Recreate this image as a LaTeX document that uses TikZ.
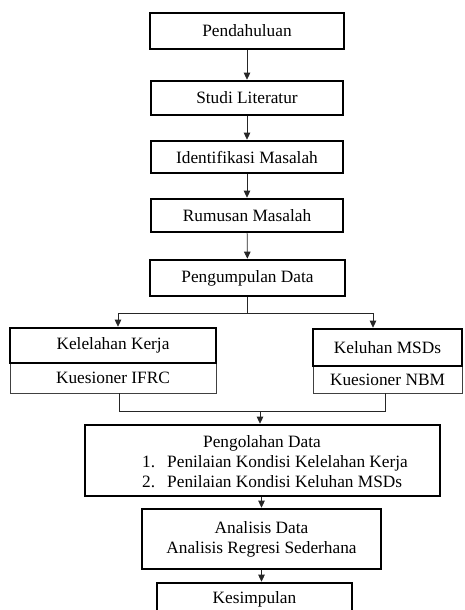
\documentclass[tikz,border=0pt]{standalone}
\usepackage{fontspec}
\setmainfont{Liberation Serif}
\usetikzlibrary{arrows.meta}
\begin{document}
\begin{tikzpicture}[x=1pt,y=-1pt,
  txt/.style={font=\fontsize{17.3pt}{20pt}\selectfont, inner sep=0pt},
  mainbox/.style={txt, draw=black, line width=2.6pt, align=center},
  subbox/.style={txt, draw=black!75, line width=0.8pt},
  conn/.style={draw=black!85, line width=0.8pt},
  arr/.style={conn, -{Triangle[length=7pt,width=6.5pt]}}]
\useasboundingbox (0,0) rectangle (465,610);
\clip (0,0) rectangle (465,610);
% sub boxes first (their top edge lies under the thick boxes)
\node[subbox, minimum width=206pt, minimum height=30pt] (ifrc) at (113,378) {Kuesioner IFRC};
\node[subbox, minimum width=149pt, minimum height=27pt] (nbm) at (387.5,379.5) {Kuesioner NBM};
% main boxes
\node[mainbox, minimum width=194pt, minimum height=36pt] (pend) at (247,31) {Pendahuluan};
\node[mainbox, minimum width=192pt, minimum height=34pt] (studi) at (247,98) {Studi Literatur};
\node[mainbox, minimum width=192pt, minimum height=32pt] (iden) at (247,157) {Identifikasi Masalah};
\node[mainbox, minimum width=192pt, minimum height=33pt] (rumus) at (247,215.5) {Rumusan Masalah};
\node[mainbox, minimum width=195pt, minimum height=36pt] (pengum) at (247.5,278) {Pengumpulan Data};
\node[mainbox, minimum width=206pt, minimum height=35pt] (kelel) at (113,345.5) {Kelelahan Kerja};
\node[mainbox, minimum width=149pt, minimum height=37pt] (keluh) at (387.5,347.5) {Keluhan MSDs};
\node[mainbox, minimum width=355pt, minimum height=71pt] (olah) at (262.5,460.5) {};
\node[txt, anchor=base] (olahT) at (262,447) {Pengolahan Data};
\node[txt, anchor=base west] (olah1) at (142,467) {\makebox[25pt][l]{1.}Penilaian Kondisi Kelelahan Kerja};
\node[txt, anchor=base west] (olah2) at (142,487) {\makebox[25pt][l]{2.}Penilaian Kondisi Keluhan MSDs};
\node[mainbox, minimum width=239pt, minimum height=60pt] (anal) at (261.5,539) {Analisis Data\\Analisis Regresi Sederhana};
\node[mainbox, minimum width=195pt, minimum height=44pt] (kesim) at (254.5,605) {};
\node[txt, anchor=base] (kesimT) at (254.5,603) {Kesimpulan};
% connectors
\draw[arr] (pend) -- (studi);
\draw[arr] (studi) -- (iden);
\draw[arr] (iden) -- (rumus);
\draw[arr] (rumus) -- (pengum);
\coordinate (bl) at (118,313);
\coordinate (br) at (373,313);
\draw[conn] (pengum.south) |- (bl);
\draw[conn] (pengum.south) |- (br);
\draw[arr] (bl) -- (bl |- kelel.north);
\draw[arr] (br) -- (br |- keluh.north);
\coordinate (ml) at (119,411);
\coordinate (mr) at (385,411);
\coordinate (mc) at (260,411);
\draw[conn] (ifrc.south -| ml) -- (ml) -- (mr) -- (nbm.south -| mr);
\draw[arr] (mc) -- (mc |- olah.north);
\draw[arr] (anal.north |- olah.south) -- (anal.north);
\draw[arr] (anal.south) -- (anal.south |- kesim.north);
\end{tikzpicture}
\end{document}
